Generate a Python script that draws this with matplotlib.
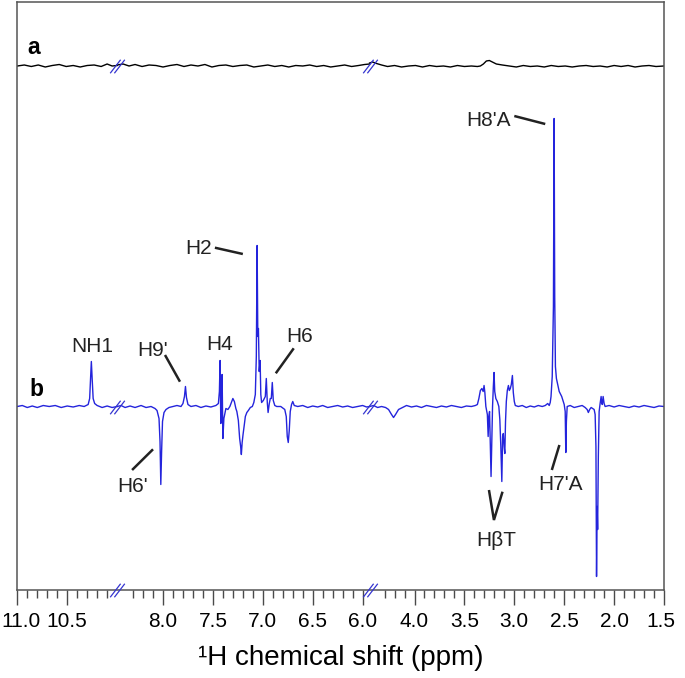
import matplotlib
matplotlib.use("Agg")
import matplotlib.pyplot as plt
import matplotlib.transforms as mtransforms
import numpy as np
from matplotlib.path import Path

plt.rcParams['font.family'] = ['Liberation Sans', 'DejaVu Sans']

# ppm ranges that are shown (high -> low), the rest is cut out
SEGMENTS = [(11.0, 10.0), (8.46, 5.93), (4.45, 1.5)]

# trace a (reference, black), ppm / intensity
a_ppm = [11.0, 10.93, 10.86, 10.79, 10.72, 10.65, 10.58, 10.51, 10.44, 10.37, 10.30, 10.23, 10.16, 10.10, 10.05, 10.0,
         8.46, 8.40, 8.34, 8.28, 8.21, 8.14, 8.07, 8.00, 7.93, 7.86, 7.79, 7.72, 7.65, 7.58, 7.51, 7.44, 7.37, 7.30,
         7.23, 7.16, 7.09, 7.02, 6.95, 6.88, 6.81, 6.74, 6.67, 6.60, 6.53, 6.46, 6.39, 6.32, 6.25, 6.18, 6.11, 6.04, 5.98, 5.93,
         4.45, 4.42, 4.38, 4.33, 4.27, 4.20, 4.13, 4.06, 3.99, 3.92, 3.85, 3.78, 3.71, 3.64, 3.57, 3.50, 3.43, 3.37,
         3.34, 3.31, 3.28, 3.25, 3.22, 3.18, 3.12, 3.05, 2.98, 2.91, 2.84, 2.77, 2.70, 2.63, 2.56, 2.49, 2.42, 2.35,
         2.28, 2.21, 2.14, 2.07, 2.00, 1.93, 1.86, 1.79, 1.72, 1.65, 1.58, 1.50]
a_int = [0, 1, -0.5, 1, -1, 0.5, 1.5, -0.5, 0.5, -1, 0.5, 1, -0.5, 2, 0, 0.5,
         1, 2, 0, 1.5, -0.5, 1, 0.5, -1, 0.5, 1.5, -0.5, 1, 0, 1.5, -1, 0.5, 1, -0.5,
         0.5, 1, -1, 0, 1, -0.5, 0.5, -1, 0.5, 0, 1, -0.5, 0.5, -1, 0, 1, -0.5, 0.5, 1.5, 2,
         3, 4, 2.5, 1, -0.5, 0.5, -1, 0, 0.5, -1, 0.5, -0.5, 0, -1, 0.5, -0.5, 0, -0.5,
         0, 2, 5, 5.5, 4, 2, 1, 0, -1, 0.5, -0.5, 0, -1, 0.5, -0.5, 0, -1, 0,
         0.5, -0.5, 0, -1, 0.5, -0.5, 0.5, -1, 0, 0.5, -0.5, 0]

# trace b (blue), ppm / intensity
b_ppm = [11.0, 10.95, 10.90, 10.85, 10.80, 10.74, 10.68, 10.62, 10.56, 10.50, 10.44, 10.38, 10.33, 10.29,
         10.275, 10.265, 10.258, 10.25, 10.24, 10.225, 10.20, 10.15, 10.10, 10.05, 10.0,
         8.46, 8.42, 8.38, 8.33, 8.28, 8.22, 8.17, 8.12, 8.08, 8.06, 8.04, 8.03, 8.022, 8.014, 8.005, 7.99,
         7.97, 7.94, 7.90, 7.86, 7.82, 7.80, 7.785, 7.775, 7.765, 7.75, 7.72, 7.67, 7.62, 7.57, 7.52, 7.47,
         7.445, 7.435, 7.428, 7.421, 7.413, 7.408, 7.400, 7.39, 7.37, 7.35, 7.33, 7.315, 7.30, 7.285, 7.27,
         7.26, 7.245, 7.232, 7.222, 7.215, 7.207, 7.198, 7.185, 7.175, 7.16, 7.145, 7.125, 7.105, 7.09,
         7.075, 7.065, 7.057, 7.05, 7.044, 7.036, 7.027, 7.02, 7.012, 6.995, 6.975, 6.965, 6.955, 6.947,
         6.935, 6.925, 6.915, 6.905, 6.895, 6.88, 6.86, 6.82, 6.78, 6.765, 6.755, 6.745, 6.735, 6.725,
         6.712, 6.70, 6.685, 6.65, 6.60, 6.55, 6.50, 6.45, 6.40, 6.35, 6.30, 6.25, 6.20, 6.15, 6.10, 6.05,
         6.00, 5.96, 5.93,
         4.45, 4.41, 4.37, 4.33, 4.29, 4.26, 4.23, 4.21, 4.19, 4.16, 4.12, 4.08, 4.03, 3.98, 3.93, 3.88,
         3.83, 3.78, 3.73, 3.68, 3.63, 3.58, 3.53, 3.48, 3.43, 3.39, 3.37, 3.355, 3.34, 3.325, 3.312,
         3.303, 3.295, 3.285, 3.27, 3.262, 3.255, 3.248, 3.24, 3.233, 3.226, 3.218, 3.21, 3.203, 3.196,
         3.185, 3.17, 3.155, 3.145, 3.135, 3.125, 3.117, 3.11, 3.102, 3.095, 3.088, 3.08, 3.07, 3.059,
         3.05, 3.04, 3.03, 3.019, 3.01, 3.0, 2.99, 2.96, 2.92, 2.88, 2.84, 2.80, 2.76, 2.72, 2.69, 2.665,
         2.65, 2.64, 2.632, 2.62, 2.608, 2.601, 2.595, 2.588, 2.578, 2.565, 2.55, 2.535, 2.525, 2.51,
         2.50, 2.49, 2.484, 2.478, 2.47, 2.44, 2.40, 2.36, 2.32, 2.29, 2.27, 2.258, 2.245, 2.23, 2.215,
         2.20, 2.19, 2.182, 2.176, 2.17, 2.165, 2.158, 2.15, 2.14, 2.13, 2.124, 2.118, 2.11, 2.10, 2.09,
         2.05, 2.0, 1.95, 1.9, 1.85, 1.8, 1.75, 1.7, 1.65, 1.6, 1.55, 1.5]
b_int = [0, 1, -1, 0.5, -1, 1, 0, 1, -1, 0.5, -0.5, 1, 0, 2,
         8, 30, 45, 28, 8, 3, 1, -1, 0.5, -1, 0,
         0, 1, -1, 0.5, -1, 1, -1, 0, -2, -4, -12, -35, -78, -45, -15, -6,
         -3, -1, 0, 1, 0, 3, 10, 20, 9, 2, 0, 1, -1, 0.5, -0.5, 1,
         3, 15, 46, -17, -5, 32, -32, -12, -2, -3, 0, 4, 8, 5, -2,
         -5, -14, -32, -40, -48, -36, -28, -18, -10, -6, -4, -1, 0, 4,
         12, 50, 161, 70, 78, 35, 46, 12, 4, 6, 10, 28, 4, -6,
         3, 8, 8, 24, 6, 1, 0, 0, -3, -10, -30, -36, -24, -5,
         2, 5, 1, 0, 1, -1, 0.5, -0.5, 1, -1, 0, 1, -0.5, 0.5, -1, 0,
         1, -0.5, 0,
         0, 1, -1, 0, -1, -3, -8, -11, -8, -3, -1, 1, -0.5, 0.5, -1, 1,
         0, -1, 0.5, -0.5, 1, 0, -1, 0.5, 0, 1, 2, 8, 16, 18, 15,
         21, 14, 0, -8, -30, -10, -5, -40, -70, -35, 0, 20, 34, 15,
         8, 5, 0, -13, -40, -75, -30, -27, -40, -47, -15, 5, 16, 21,
         16, 18, 22, 31, 14, 5, 1, 0, 1, -1, 0.5, -0.5, 1, 0, 1, 3,
         1, 4, 10, 30, 100, 288, 110, 40, 28, 22, 15, 12, 10, 5,
         2, -5, -46, -15, 0, 1, -1, 0, 1, -1, -3, -6, -3, -1, -2,
         -3, -8, -40, -170, -100, -123, -50, -5, 3, 10, 3, 2, 10, 3, 0,
         1, -0.5, 1, 0, -1, 0.5, -0.5, 1, 0, -1, 0.5, 0]

A_OFFSET = 340.5

major_ticks = [11.0, 10.5, 8.0, 7.5, 7.0, 6.5, 6.0, 4.0, 3.5, 3.0, 2.5, 2.0, 1.5]
tick_labels = ["11.0", "10.5", "8.0", "7.5", "7.0", "6.5", "6.0", "4.0", "3.5", "3.0", "2.5", "2.0", "1.5"]

# piecewise scale that squeezes out the cut ranges
P_KNOTS = [-50.0, 1.5, 4.45, 5.93, 8.46, 10.0, 11.0, 60.0]
U_KNOTS = [-50.0, 1.5, 4.45, 4.45, 6.98, 6.98, 7.98, 56.98]


def fwd(p):
    return np.interp(p, P_KNOTS, U_KNOTS)


def inv(u):
    return np.interp(u, U_KNOTS, P_KNOTS)


def split(ppm, vals):
    ppm = np.asarray(ppm)
    vals = np.asarray(vals, dtype=float)
    out = []
    for hi, lo in SEGMENTS:
        m = (ppm <= hi + 1e-9) & (ppm >= lo - 1e-9)
        out.append((ppm[m], vals[m]))
    return out


fig = plt.figure(figsize=(6.85, 6.78), dpi=100)
ax = fig.add_axes([17.3 / 685, 88 / 678, (664 - 17.3) / 685, 588 / 678])
ax.set_xscale('function', functions=(fwd, inv))

blue = '#2424dc'
for x, y in split(a_ppm, a_int):
    ax.plot(x, y + A_OFFSET, color='black', lw=1.0)
for x, y in split(b_ppm, b_int):
    ax.plot(x, y, color=blue, lw=1.0)

ax.set_xlim(11.0, 1.5)
ax.set_ylim(-183.5, 404.5)

# break marks //
slash = Path([(-7, -6.5), (3, 6.5), (-3, -6.5), (7, 6.5)],
             [Path.MOVETO, Path.LINETO, Path.MOVETO, Path.LINETO])
for xb, yb in [(10.0, A_OFFSET), (5.93, A_OFFSET), (10.0, 0), (5.93, 0), (10.0, -183.5), (5.93, -183.5)]:
    ax.plot([xb], [yb], marker=slash, markersize=10.5, markeredgewidth=0.9,
            markeredgecolor='#3434d0', markerfacecolor='none', ls='none', clip_on=False, zorder=5)

# axis styling
for s in ['top', 'left', 'right', 'bottom']:
    ax.spines[s].set_color('#555555')
    ax.spines[s].set_linewidth(1.1)
ax.set_yticks([])
ax.set_xticks(major_ticks)
ax.set_xticklabels(tick_labels, fontsize=15)
minor = ([round(10.9 - 0.1 * i, 1) for i in range(9) if i != 4] +
         [round(8.3 - 0.1 * i, 1) for i in range(23) if round(8.3 - 0.1 * i, 1) not in major_ticks] +
         [round(4.3 - 0.1 * i, 1) for i in range(28) if round(4.3 - 0.1 * i, 1) not in major_ticks])
ax.set_xticks(minor, minor=True)
ax.tick_params(axis='x', which='major', direction='out', length=10.5, width=1.0, color='#4a4a4a', pad=5.5)
ax.tick_params(axis='x', which='minor', direction='out', length=5.5, width=1.0, color='#4a4a4a')
ax.set_xlabel('¹H chemical shift (ppm)', fontsize=20, labelpad=10)

# nudge first and last tick labels so they stay inside the figure
first = ax.get_xticklabels()[0]
first.set_transform(first.get_transform() + mtransforms.ScaledTranslation(3 / 72, 0, fig.dpi_scale_trans))
last = ax.get_xticklabels()[-1]
last.set_transform(last.get_transform() + mtransforms.ScaledTranslation(-2 / 72, 0, fig.dpi_scale_trans))

# trace labels
ax.text(10.84, 359.5, 'a', fontsize=16.5, fontweight='bold', ha='center', va='center')
ax.text(10.81, 17.5, 'b', fontsize=16.5, fontweight='bold', ha='center', va='center')

# peak labels with leader lines
labels = [
    ('NH1', 10.25, 59.5, None),
    ("H9'", 8.10, 55.5, [(7.98, 51.5), (7.83, 24.8)]),
    ('H4', 7.43, 61.5, None),
    ('H6', 6.63, 70.5, [(6.69, 58.2), (6.87, 33.2)]),
    ("H6'", 8.31, -80.5, [(8.31, -63.5), (8.10, -42.8)]),
    ('H2', 7.64, 157.5, [(7.48, 158.8), (7.20, 152.5)]),
    ("H8'A", 3.26, 286.5, [(3.00, 290.5), (2.69, 282.5)]),
    ("H7'A", 2.541, -78.5, [(2.624, -63.5), (2.548, -38.5)]),
    ('HβT', 3.182, -133.5, [(3.254, -83.5), (3.204, -113.5), (3.118, -85.2)]),
]
for txt, x, y, line in labels:
    ax.text(x, y, txt, fontsize=15, ha='center', va='center', color='#222222')
    if line:
        ax.plot([p[0] for p in line], [p[1] for p in line], color='#222222', lw=1.8,
                solid_capstyle='butt', solid_joinstyle='miter')

fig.savefig('out.png', dpi=100)
